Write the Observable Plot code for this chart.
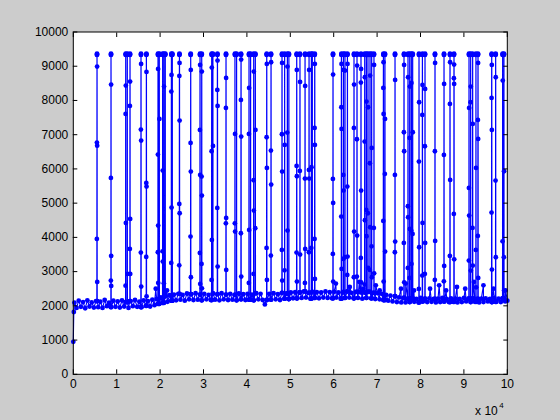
<!DOCTYPE html>
<html><head><meta charset="utf-8">
<script src="https://cdn.jsdelivr.net/npm/d3@7"></script>
<script src="https://cdn.jsdelivr.net/npm/@observablehq/plot@0.6"></script>
<style>
html,body{margin:0;padding:0;background:#cccccc;overflow:hidden;}
#chart{width:560px;height:420px;}
</style></head><body><div id="chart"></div>
<script>
// ---- data ----
const xTicks = [0,10000,20000,30000,40000,50000,60000,70000,80000,90000,100000];
const xTickLabels = ["0","1","2","3","4","5","6","7","8","9","10"];
const yTicks = [0,1000,2000,3000,4000,5000,6000,7000,8000,9000,10000];
const yTickLabels = ["0","1000","2000","3000","4000","5000","6000","7000","8000","9000","10000"];
const xExponent = ["x 10", "4"];

// first samples at the very start
const startPoints = [[0, 950], [120, 1820]];

// baseline samples, about every 500 samples from x=250 to x=100000
const baselineStart = 250;
const baselineStep = 498.75;
const baseline = [
  // 0 - 18k
  2090,1940,2150,1970,2110,1930,2160,1980,2100,1950,2140,1960,2120,1940,2170,1990,2090,1960,
  2150,1970,2130,1950,2160,1980,2110,1940,2140,1990,2170,1970,2120,1960,2160,2000,2140,1980,
  // 18k - 23k
  2180,2020,2200,2060,2250,2090,2280,2120,2310,2150,
  // 23k - 44k
  2330,2160,2350,2180,2320,2150,2360,2190,2340,2170,2370,2180,2330,2160,2350,2190,2320,2170,2360,2180,2340,
  2160,2370,2190,2330,2170,2350,2180,2320,2160,2360,2190,2340,2170,2350,2180,2330,2160,2370,2190,2350,2170,
  // 44k - 45k
  2040,2170,
  // 45k - 51k
  2350,2180,2370,2190,2340,2170,2380,2210,2360,2200,2390,2220,
  // 51k - 71k
  2400,2220,2390,2230,2420,2240,2380,2210,2410,2230,2400,2220,2390,2240,2420,2230,2400,2220,2410,2240,
  2390,2210,2400,2230,2420,2240,2380,2220,2410,2230,2400,2210,2390,2230,2410,2220,2380,2200,2370,2190,
  // 71k - 77k
  2350,2170,2320,2150,2300,2130,2280,2110,2250,2100,2230,2100,
  // 77k - 100k
  2210,2110,2220,2120,2200,2100,2230,2130,2210,2110,2220,2120,2200,2100,2210,2110,2230,2130,2200,2110,2220,2120,2210,
  2100,2200,2110,2230,2130,2210,2110,2220,2120,2200,2100,2210,2110,2220,2130,2200,2110,2230,2120,2210,2110,2220,2130,
  2150
];

// small excursions just above the baseline
const bumps = [
  [19000,2500],[21600,2450],[60500,2650],[63700,2550],[65900,2700],[66800,2500],
  [67600,2800],[69700,2600],[70600,2450],[75500,2500],[76600,2650],[78500,2450],
  [82200,2500],[84300,2600],[85900,2450],[88400,2550],[90300,2500],[92300,2700],
  [94500,2600],[96800,2500],[99600,2450]
];

// spike positions and the intermediate samples on each spike
const spikeX = [
  5415,8640,12030,12420,13020,15550,16790,19470,19790,20550,
  20850,21170,22560,22790,24400,27000,29150,29540,31840,32140,
  33160,35140,37210,37600,38600,40440,40830,41520,41910,44520,
  45510,48040,48660,49290,49650,51430,52190,53350,54270,54820,
  55050,55580,59790,61730,62190,62560,63110,64630,65320,66240,
  67100,67490,67860,68320,68710,69240,71410,71770,74080,76150,
  77070,77470,77850,78160,79610,80390,80990,83290,85370,86750,
  87670,91130,91520,91980,92740,93200,96360,97280,98890,99190
];
const spikeMid = [
  [8990,6770,6680,3955,2700],[8464,5737,3458,2737,2581],[8435,7607,4422,2590],[2932],[8552,7841,4539,3662,2932],
  [9068,7149,6828,3555,2562],[8834,5591,5484,3428,2279],[8922,6419,4344,3565,2669],[7461],[5951,3594,3292],
  [8406,2659],[],[8747,8260,4870,3253],[],[9097,8717,7412,4977,4705,3185],
  [8893,6760,5922,4023,2835],[9039,7140,5825,3546,2640],[8844,5776,5221,3224,2513],[8961,6516,3925,2756],[6672],
  [9165,8308,7841,4860,3146],[8659,7782,4568,4412,3049],[7023,4412,4169],[],[9195,8016,6945,4120,2854],
  [8367,7023,4218,2669],[],[8844,5669,4782,2932],[7140,4266],[9068,6925,6029,3692,2756],
  [9117,6535,5542,3468],[9097,7013,5922,3633,2737],[6702,3039],[8990,7062,4198],[],
  [8893,6087,5786,3555,2708],[8542,5941,3497],[8425,5718,3662,2669],[8893,5971,5718,3565],[6049,3692],
  [],[9068,7198,6702,3955,2786],[8756,5708,5006,3516,2708],[9068,7802,7169,4607,3078],[8893,5825,5367,3370],
  [8873,3419],[9068,5484,3438,2903],[8464,7198,4169,2835],[9019,6867,4052,2854],[8922,8523,5367,3399,2688],
  [8678,6799,4500,2620],[7967,4802,4033],[7802,4705,3107],[8727,6166,4296,3049],[6614,3740,2835],
  [9039,4276,2951],[9117,8367,7607,4480,2708],[7461,5854,3584],[8600,5825,3877,3565],[9039,7071,6516,3838,2688],
  [8678,4909,4588,3107],[8406,6906,4247,2815],[8513,4198,3224],[7071,4100],[7948,6214,3711,2493],
  [8454,7578,4422,2883],[8338,6662,3838,2932],[9097,6516,3896,2756],[8484,6409,3165,2717],[9117,7899,5679,3458],
  [9049,8649,8484,4685,3360],[7782,5445,4637,3322],[8406,7948,3029],[7315,4276,3175],[6029,3633,2542],
  [9097,7432,6877,4042,2815],[9039,8075,7140,4724,3059],[8678,5659,3419],[8581,3886],[5932,3419,2445]
];
const peakValues = [9330, 9370, 9345];

// ---- build the series ----
const spikeStep = 12;
const pts = [];
startPoints.forEach(([x, y]) => pts.push({x, y}));
const spans = [];
const nearestBase = x => baseline[Math.max(0, Math.min(baseline.length - 1, Math.round((x - baselineStart) / baselineStep)))];
spikeX.forEach((sx, i) => {
  const m = spikeMid[i];
  const up = m.filter((_, j) => j % 2 === 1).sort((a, b) => a - b);
  const down = m.filter((_, j) => j % 2 === 0).sort((a, b) => b - a);
  const b = nearestBase(sx);
  const seq = [b, ...up, ...peakValues, ...down, b];
  seq.forEach((v, k) => pts.push({x: sx + k * spikeStep, y: v}));
  spans.push([sx - 20, sx + seq.length * spikeStep + 20]);
});
const inSpike = x => spans.some(([a, c]) => x >= a && x <= c);
baseline.forEach((v, i) => {
  const x = baselineStart + i * baselineStep;
  if (!inSpike(x)) pts.push({x, y: v});
});
bumps.forEach(([x, y]) => { if (!inSpike(x)) pts.push({x, y}); });
pts.sort((a, b) => a.x - b.x);

const blue = "#0000ff";
const fontFamily = "'Liberation Sans', Arial, Helvetica, sans-serif";

const chart = Plot.plot({
  width: 560,
  height: 420,
  marginLeft: 72.8,
  marginRight: 53.2,
  marginTop: 31.5,
  marginBottom: 46.2,
  style: {background: "transparent", fontFamily, fontSize: "12px", color: "black", overflow: "visible"},
  x: {domain: [0, 100000]},
  y: {domain: [0, 10000]},
  marks: [
    Plot.frame({fill: "white", stroke: null}),
    Plot.line(pts, {x: "x", y: "y", stroke: blue, strokeWidth: 1.1}),
    Plot.dot(pts, {x: "x", y: "y", r: 2.4, fill: blue, stroke: null}),
    Plot.frame({stroke: "black", strokeWidth: 1}),
    Plot.axisX(xTicks, {anchor: "bottom", tickSize: -4.5, fill: "none", label: null}),
    Plot.axisX(xTicks, {anchor: "top", tickSize: -4.5, fill: "none", label: null}),
    Plot.axisY(yTicks, {anchor: "left", tickSize: -4.5, fill: "none", label: null}),
    Plot.axisY(yTicks, {anchor: "right", tickSize: -4.5, fill: "none", label: null}),
    Plot.axisX(xTicks, {anchor: "bottom", tickSize: 0, tickPadding: 5, label: null,
      tickFormat: (d, i) => xTickLabels[i], fontSize: 12}),
    Plot.axisY(yTicks, {anchor: "left", tickSize: 0, tickPadding: 5, label: null,
      tickFormat: (d, i) => yTickLabels[i], fontSize: 12}),
    Plot.text([xExponent[0]], {text: d => d, frameAnchor: "bottom-right", textAnchor: "end",
      lineAnchor: "bottom", dx: -9.5, dy: 40.2, fontSize: 12, fill: "black"}),
    Plot.text([xExponent[1]], {text: d => d, frameAnchor: "bottom-right", textAnchor: "start",
      lineAnchor: "bottom", dx: -8, dy: 33.5, fontSize: 8, fill: "black"})
  ]
});
document.getElementById("chart").appendChild(chart);
</script>
</body></html>
